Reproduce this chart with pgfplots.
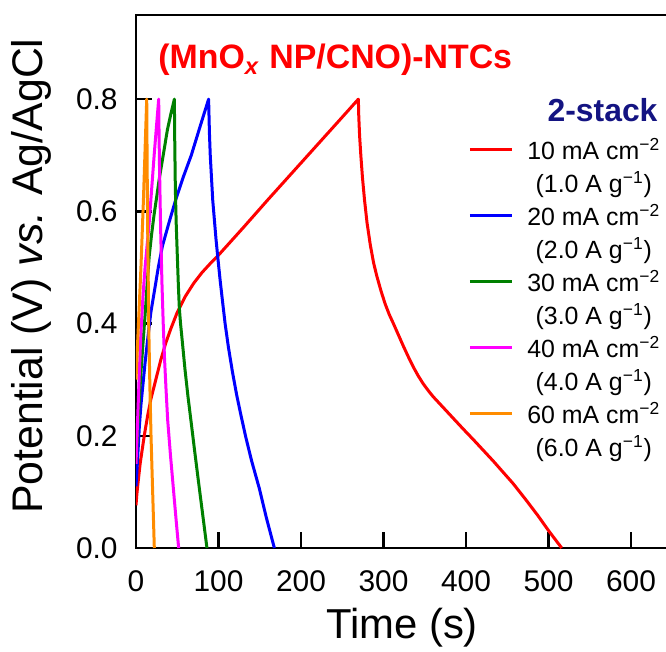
\documentclass[border=0pt]{standalone}
\usepackage{fontspec}
\setmainfont{Liberation Sans}
\usepackage{pgfplots}
\pgfplotsset{compat=1.18}
\definecolor{cRed}{RGB}{255,0,0}
\definecolor{cBlue}{RGB}{0,0,255}
\definecolor{cGreen}{RGB}{0,128,0}
\definecolor{cMag}{RGB}{255,0,255}
\definecolor{cOrange}{RGB}{255,140,0}
\definecolor{cNavy}{RGB}{20,20,130}
\begin{document}
\begin{tikzpicture}
\begin{axis}[
  at={(0,0)}, anchor=south west,
  scale only axis, width=266bp, height=266.5bp,
  xmin=0, xmax=644.8, ymin=0, ymax=0.95,
  xtick={0,100,200,300,400,500,600},
  ytick={0,0.2,0.4,0.6,0.8},
  tick align=inside, xtick pos=bottom, ytick pos=left,
  major tick length=8bp,
  tick style={black, line width=1.2bp},
  axis line style={black, line width=1.2bp},
  ticklabel style={font=\fontsize{15}{18}\selectfont},
  xticklabel style={inner sep=0pt, anchor=north, yshift=-11bp, /pgf/number format/assume math mode=true},
  yticklabel style={inner sep=0pt, anchor=east, xshift=-9bp, /pgf/number format/.cd, fixed, fixed zerofill, precision=1, assume math mode=true},
  xlabel={Time (s)},
  ylabel={Potential (V) \textit{vs.} Ag/AgCl},
  xlabel style={font=\fontsize{21}{25}\selectfont, at={(axis description cs:0.5,-0.15)}, anchor=center},
  ylabel style={font=\fontsize{21.5}{26}\selectfont, at={(axis description cs:-0.197,0.51)}, anchor=center},
  legend style={at={(axis description cs:0.624,0.78)}, anchor=north west, draw=none, fill=none,
    font=\fontsize{12.5}{16.5}\selectfont, inner sep=0pt, row sep=16bp,
    /tikz/every odd column/.append style={column sep=5bp}},
  legend image code/.code={\draw[#1, line width=1.5bp] (0bp,0bp) -- (21bp,0bp);},
  every axis plot/.append style={line width=1.5bp, line join=round},
]
\addplot[cRed] coordinates {
(0,0.076) (1,0.095) (2,0.110) (3.5,0.130) (5,0.150) (7.5,0.175) (10,0.200) (14,0.235) (18,0.265)
(24,0.300) (30,0.335) (36,0.365) (42,0.390) (50,0.420) (60,0.449) (70,0.472) (80,0.491) (90,0.507) (100,0.522)
(130,0.571) (160,0.621) (190,0.670) (220,0.719) (250,0.768) (269.5,0.8)
(270,0.770) (271,0.735) (272.5,0.700) (274.5,0.660) (277,0.620) (280,0.580) (284,0.540) (288,0.508)
(292,0.484) (297,0.458) (302,0.435) (307,0.416) (312,0.400) (318,0.380) (324,0.360) (330,0.341)
(336,0.323) (342,0.307) (348,0.293) (354,0.281) (360,0.270) (372,0.251) (384,0.232) (396,0.213)
(409,0.193) (421,0.174) (433,0.155) (445,0.135) (457,0.115) (472,0.087) (487,0.058) (501,0.029) (516,0.0)};
\addlegendentry{\begin{tabular}[t]{@{}c@{}}10 mA cm\textsuperscript{−2}\\(1.0 A g\textsuperscript{−1})\end{tabular}}
\addplot[cBlue] coordinates {
(0,0.110) (2,0.160) (4,0.215) (6,0.255) (8,0.285) (11,0.330) (14,0.370) (18,0.420) (22,0.455)
(27,0.500) (32,0.538) (40,0.580) (48,0.620) (57,0.660) (67,0.700) (77,0.748) (88,0.800)
(89,0.740) (90,0.700) (91.5,0.660) (93,0.620) (95,0.585) (97,0.550) (99,0.520) (102,0.477) (105,0.438)
(108,0.400) (112,0.358) (117,0.313) (122,0.273) (127,0.238) (133,0.198) (140,0.156) (149.5,0.106)
(158,0.054) (167.7,0)};
\addlegendentry{\begin{tabular}[t]{@{}c@{}}20 mA cm\textsuperscript{−2}\\(2.0 A g\textsuperscript{−1})\end{tabular}}
\addplot[cGreen] coordinates {
(0,0.15) (2,0.21) (4,0.265) (6,0.313) (8.5,0.365) (11,0.415) (13.5,0.47) (16,0.52) (19,0.56)
(22,0.595) (25,0.625) (28,0.656) (33,0.70) (38,0.745) (42,0.772) (46.5,0.8)
(47,0.72) (47.7,0.64) (48.7,0.58) (50.1,0.52) (51.3,0.47) (52.5,0.428) (54,0.40) (56,0.37)
(59.4,0.318) (63,0.27) (66.7,0.226) (71.5,0.168) (76.8,0.106) (81.5,0.052) (86,0)};
\addlegendentry{\begin{tabular}[t]{@{}c@{}}30 mA cm\textsuperscript{−2}\\(3.0 A g\textsuperscript{−1})\end{tabular}}
\addplot[cMag] coordinates {
(0,0.15) (1.5,0.21) (3,0.27) (4.5,0.33) (6,0.385) (8.5,0.45) (11,0.50) (13.5,0.54) (16,0.58)
(19,0.64) (22,0.70) (25,0.755) (27.5,0.8)
(28,0.73) (28.5,0.68) (29.2,0.62) (30,0.56) (31.5,0.47) (33,0.40) (34.5,0.34) (36.5,0.28)
(38.4,0.228) (41.8,0.165) (45.3,0.106) (48.5,0.052) (51.7,0)};
\addlegendentry{\begin{tabular}[t]{@{}c@{}}40 mA cm\textsuperscript{−2}\\(4.0 A g\textsuperscript{−1})\end{tabular}}
\addplot[cOrange] coordinates {
(0,0.30) (3,0.40) (6,0.50) (9,0.62) (11,0.71) (13,0.8)
(13.5,0.68) (14.3,0.55) (15.4,0.40) (16.8,0.29) (18.2,0.2) (20.2,0.1) (22.2,0)};
\addlegendentry{\begin{tabular}[t]{@{}c@{}}60 mA cm\textsuperscript{−2}\\(6.0 A g\textsuperscript{−1})\end{tabular}}
\node[anchor=base west, text=cRed, font=\bfseries\fontsize{17}{20}\selectfont, inner sep=0pt] at (axis description cs:0.0414,0.899) {(MnO\textsubscript{\textit{x}} NP/CNO)-NTCs};
\node[anchor=base east, text=cNavy, font=\bfseries\fontsize{16}{19}\selectfont, inner sep=0pt] at (axis description cs:0.981,0.80) {2-stack};
\end{axis}
\pgfresetboundingbox
\path[use as bounding box] (-68bp,-52bp) rectangle (265bp,274bp);
\end{tikzpicture}
\end{document}
